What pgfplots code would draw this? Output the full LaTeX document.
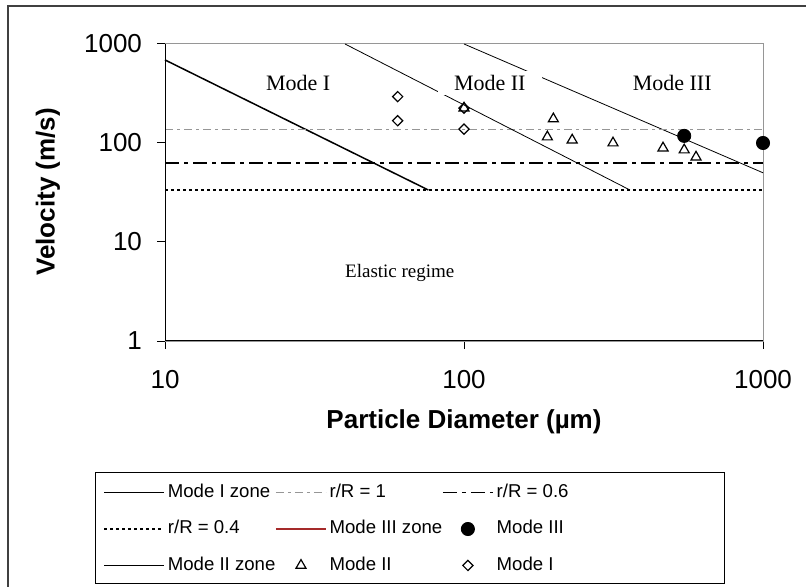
\documentclass[border=0pt]{standalone}
\usepackage{fontspec}
\setmainfont{Liberation Sans}
\newfontfamily\tnr{Liberation Serif}
\usepackage{pgfplots}
\pgfplotsset{compat=1.18}
\definecolor{refgray}{RGB}{150,150,150}
\definecolor{modered}{RGB}{165,42,42}
\definecolor{framegray}{RGB}{64,64,64}
\pgfplotsset{
  legA/.style={legend image code/.code={\draw[##1] (0pt,0pt) -- (30pt,0pt);}},
}
\begin{document}
\begin{tikzpicture}
\useasboundingbox (-82.5pt,-123pt) rectangle (320.5pt,170.5pt);
\begin{axis}[
  at={(0pt,0pt)}, anchor=south west,
  scale only axis, width=299pt, height=148.5pt,
  xmode=log, ymode=log, xmin=10, xmax=1000, ymin=1, ymax=1000,
  xtick={10,100,1000}, ytick={1,10,100,1000},
  xticklabels={10,100,1000}, yticklabels={1,10,100,1000},
  xminorticks=false, yminorticks=false,
  tick align=outside, xtick pos=left, ytick pos=left,
  major tick length=4pt,
  tick style={black, line width=0.5pt},
  axis line style={refgray, line width=0.5pt},
  ticklabel style={font=\fontsize{13}{15}\selectfont},
  xticklabel style={yshift=-7pt},
  yticklabel style={xshift=-4pt},
  xlabel={Particle Diameter (µm)}, ylabel={Velocity (m/s)},
  every axis x label/.style={at={(axis description cs:0.5,-0.2727)}, anchor=center, font=\fontsize{13}{15}\selectfont\bfseries},
  every axis y label/.style={at={(axis description cs:-0.1957,0.5017)}, anchor=center, rotate=90, font=\fontsize{13}{15}\selectfont\bfseries},
  legend columns=3,
  legend style={draw=none, fill=none, inner sep=0pt,
    at={(axis description cs:-0.1037,-0.4805)}, anchor=north west,
    font=\fontsize{9.3}{11}\selectfont, row sep=9.7pt, column sep=0pt,
    cells={anchor=west},
    nodes={inner xsep=1.5pt, inner ysep=0pt, text height=6.7pt, text depth=1.8pt}},
  legend image code/.code={\draw[mark repeat=2,mark phase=2,#1] plot coordinates {(0pt,0pt) (12.5pt,0pt) (25pt,0pt)};},
  clip=false,
]
% Mode III zone line (drawn, legend added separately)
\addplot[black, line width=0.4pt, forget plot] coordinates {(100,1000) (1000,50)};

\addplot[black, line width=0.75pt, legA] coordinates {(10,690) (76,33.5)};
\addlegendentry{\makebox[52.25pt][l]{Mode I zone}}
\addplot[refgray, line width=0.6pt, dash pattern=on 4pt off 2pt on 1.5pt off 2pt] coordinates {(10,138) (1000,138)};
\addlegendentry{\makebox[54.75pt][l]{r/R = 1}}
\addplot[black, line width=0.8pt, dash pattern=on 7pt off 2.5pt on 2pt off 2.5pt] coordinates {(10,63.2) (1000,63.2)};
\addlegendentry{r/R = 0.6}
\addplot[black, line width=0.6pt, dash pattern=on 1.5pt off 1.5pt, legA] coordinates {(10,33.5) (1000,33.5)};
\addlegendentry{\makebox[52.25pt][l]{r/R = 0.4}}
\addlegendimage{modered, line width=0.6pt}
\addlegendentry{\makebox[54.75pt][l]{Mode III zone}}
\addplot[black, only marks, mark=*, mark size=3.3pt] coordinates {(545,118) (1000,100)};
\addlegendentry{Mode III}
\addplot[black, line width=0.4pt, legA] coordinates {(40,1000) (359,33.5)};
\addlegendentry{\makebox[52.25pt][l]{Mode II zone}}

\node[font=\tnr\fontsize{11}{13}\selectfont] at (axis cs:27.9,403) {Mode I};
\node[font=\tnr\fontsize{11}{13}\selectfont, fill=white, inner xsep=8pt, inner ysep=2pt] at (axis cs:122,403) {Mode II};
\node[font=\tnr\fontsize{11}{13}\selectfont] at (axis cs:497,403) {Mode III};
\node[font=\tnr\fontsize{9.5}{11}\selectfont] at (axis cs:61,4.86) {Elastic regime};

\addplot[black, only marks, mark=triangle, mark size=2.9pt, mark options={line width=0.6pt, fill=white}] coordinates {(100,225) (199,175) (190,115) (230,107) (315,100) (463,89) (545,85) (597,72)};
\addlegendentry{\makebox[54.75pt][l]{Mode II}}
\addplot[black, only marks, mark=square, mark size=1.8pt, mark options={rotate=45, line width=0.6pt, fill=white}] coordinates {(60,294) (60,168) (100,225) (100,138)};
\addlegendentry{Mode I}
\end{axis}
\draw[black, line width=0.5pt] (0pt,148.5pt) -- (0pt,0pt) -- (299pt,0pt);
\draw[black, line width=0.5pt] (-35pt,-65.5pt) rectangle (279.5pt,-121pt);
\draw[framegray, line width=1pt] (-78.5pt,167.5pt) rectangle (340pt,-140pt);
\end{tikzpicture}
\end{document}
